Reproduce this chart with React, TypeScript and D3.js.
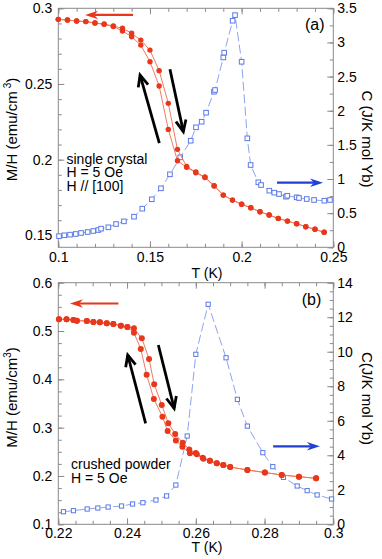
import { useRef, useEffect } from 'react';
import * as d3 from 'd3';

// ---------- panel (a): single crystal, H = 5 Oe, H // [100] ----------
// M/H, temperatures shared by both sweeps (K)
const tA = [0.1, 0.105, 0.11, 0.115, 0.12, 0.125, 0.13, 0.135, 0.14, 0.145, 0.15, 0.155, 0.16, 0.165, 0.17,
  0.175, 0.18, 0.185, 0.19, 0.195, 0.2, 0.205, 0.21, 0.215, 0.22, 0.225, 0.23, 0.235, 0.24, 0.245];
// warming branch (the right-hand loop edge)
const mhAWarm = [0.2927, 0.2923, 0.2916, 0.2912, 0.2903, 0.2896, 0.2883, 0.2868, 0.2835, 0.279, 0.2724, 0.2588,
  0.2372, 0.2068, 0.1955, 0.1918, 0.1885, 0.1828, 0.1766, 0.1733, 0.1705, 0.1682, 0.1656, 0.1634, 0.1612,
  0.1594, 0.1577, 0.1557, 0.154, 0.152];
// cooling branch (left-hand loop edge)
const mhACool = [0.2927, 0.2923, 0.2916, 0.2912, 0.2903, 0.2894, 0.288, 0.285, 0.2812, 0.2757, 0.2647, 0.2487,
  0.22, 0.1993, 0.195, 0.1914, 0.1882, 0.1826, 0.1766, 0.1733, 0.1705, 0.1682, 0.1656, 0.1634, 0.1612,
  0.1594, 0.1577, 0.1557, 0.154, 0.152];
// specific heat
const tAC = [0.1004, 0.1033, 0.1064, 0.1095, 0.1124, 0.116, 0.1191, 0.1218, 0.1233, 0.1273, 0.1315, 0.1358,
  0.1413, 0.1458, 0.151, 0.156, 0.1609, 0.1665, 0.1722, 0.1751, 0.1782, 0.1806, 0.1849, 0.1855, 0.19, 0.1905,
  0.1951, 0.1964, 0.2, 0.2031, 0.2049, 0.2091, 0.2106, 0.2151, 0.2178, 0.2204, 0.2242, 0.2249, 0.23, 0.2313,
  0.2355, 0.2395, 0.2451, 0.2482];
const cA = [0.163, 0.176, 0.185, 0.195, 0.21, 0.224, 0.239, 0.253, 0.273, 0.293, 0.341, 0.38, 0.448, 0.565,
  0.703, 0.864, 1.069, 1.318, 1.561, 1.757, 1.839, 1.971, 2.278, 2.303, 2.78, 2.85, 3.318, 3.4, 2.717, 1.596,
  1.205, 0.952, 0.912, 0.829, 0.8, 0.78, 0.741, 0.755, 0.732, 0.722, 0.707, 0.693, 0.682, 0.693];

// ---------- panel (b): crushed powder, H = 5 Oe ----------
const tBWarm = [0.2202, 0.2224, 0.2244, 0.2254, 0.2283, 0.2302, 0.2321, 0.2341, 0.236, 0.2382, 0.2401, 0.242,
  0.2443, 0.2464, 0.2479, 0.2501, 0.252, 0.254, 0.2562, 0.2581, 0.26, 0.262, 0.2641, 0.2661, 0.268, 0.27,
  0.275, 0.2801, 0.285, 0.29, 0.295];
const mhBWarm = [0.5243, 0.5243, 0.5228, 0.5214, 0.5207, 0.5187, 0.518, 0.516, 0.5145, 0.511, 0.5083, 0.5056,
  0.485, 0.4421, 0.3897, 0.3469, 0.309, 0.2869, 0.2689, 0.2549, 0.2478, 0.2375, 0.2313, 0.2262, 0.2227, 0.2186,
  0.2124, 0.2072, 0.202, 0.1985, 0.1952];
const tBCool = [0.2202, 0.2224, 0.2244, 0.2254, 0.2283, 0.2302, 0.2321, 0.2341, 0.236, 0.2382, 0.2401, 0.242,
  0.244, 0.2457, 0.2478, 0.2503, 0.2518, 0.2542, 0.2561, 0.2583, 0.2603, 0.2622, 0.2641, 0.2661, 0.268, 0.27,
  0.275, 0.2801, 0.285, 0.29, 0.295];
const mhBCool = [0.5243, 0.5243, 0.5228, 0.5214, 0.5207, 0.5187, 0.518, 0.516, 0.5145, 0.511, 0.5083, 0.4965,
  0.4628, 0.4096, 0.3593, 0.3227, 0.2931, 0.2733, 0.2603, 0.2469, 0.2448, 0.2355, 0.2313, 0.2262, 0.2227, 0.2186,
  0.2124, 0.2072, 0.202, 0.1985, 0.1952];
const tBC = [0.2215, 0.2244, 0.2284, 0.2315, 0.2345, 0.2384, 0.2416, 0.2446, 0.2484, 0.2515, 0.2542, 0.2575,
  0.26, 0.2636, 0.2688, 0.2721, 0.275, 0.2795, 0.2824, 0.2855, 0.2895, 0.2924, 0.2953, 0.2995];
const cB = [0.73, 0.79, 0.886, 0.944, 1.0, 1.06, 1.176, 1.251, 1.408, 1.64, 2.277, 5.116, 9.85, 12.75, 9.65,
  7.24, 5.69, 4.15, 3.34, 2.72, 2.22, 1.95, 1.7, 1.466];

// tick labels
const xTicksA = [0.1, 0.15, 0.2, 0.25];
const mhTicksA = [0.15, 0.2, 0.25, 0.3];
const cTicksA = [0, 0.5, 1, 1.5, 2, 2.5, 3, 3.5];
const xTicksB = [0.22, 0.24, 0.26, 0.28, 0.3];
const mhTicksB = [0.1, 0.2, 0.3, 0.4, 0.5, 0.6];
const cTicksB = [0, 2, 4, 6, 8, 10, 12, 14];

const FONT = '"Liberation Sans", Arial, Helvetica, sans-serif';
const GRAY = '#8a8a8a';
const RED = '#e8371a';
const RED_LINE = '#f27a62';
const BLUE = '#5b79ea';
const BLUE_LINE = '#8098ee';
const BLUE_ARROW = '#1f3fd6';
const LEFT = 58.3;
const RIGHT = 333.3;

const zip = (a: number[], b: number[]) => a.map((v, i) => [v, b[i]] as [number, number]);

function filledArrow(g: any, x1: number, y1: number, x2: number, y2: number, color: string) {
  const ang = Math.atan2(y2 - y1, x2 - x1);
  const len = 13, half = 4.2;
  const bx = x2 - len * Math.cos(ang), by = y2 - len * Math.sin(ang);
  const nx = x2 - len * 0.7 * Math.cos(ang), ny = y2 - len * 0.7 * Math.sin(ang);
  const px = -Math.sin(ang) * half, py = Math.cos(ang) * half;
  g.append('line').attr('x1', x1).attr('y1', y1).attr('x2', nx).attr('y2', ny)
    .attr('stroke', color).attr('stroke-width', 2.2);
  g.append('path')
    .attr('d', `M${x2},${y2}L${bx + px},${by + py}L${nx},${ny}L${bx - px},${by - py}Z`)
    .attr('fill', color);
}

function openArrow(g: any, x1: number, y1: number, x2: number, y2: number) {
  const ang = Math.atan2(y2 - y1, x2 - x1);
  const len = 12.5, spread = 0.42;
  const a1 = ang + Math.PI - spread, a2 = ang + Math.PI + spread;
  g.append('line').attr('x1', x1).attr('y1', y1).attr('x2', x2).attr('y2', y2)
    .attr('stroke', '#000').attr('stroke-width', 2.8);
  g.append('path')
    .attr('d', `M${x2 + len * Math.cos(a1)},${y2 + len * Math.sin(a1)}L${x2},${y2}L${x2 + len * Math.cos(a2)},${y2 + len * Math.sin(a2)}`)
    .attr('fill', 'none').attr('stroke', '#000').attr('stroke-width', 2.8).attr('stroke-linejoin', 'miter');
}

function drawPanel(svg: any, p: any) {
  const x = d3.scaleLinear().domain(p.xDomain).range([LEFT, RIGHT]);
  const yM = d3.scaleLinear().domain(p.mhDomain).range([p.bottom, p.top]);
  const yC = d3.scaleLinear().domain(p.cDomain).range([p.bottom, p.top]);
  const g = svg.append('g');

  g.append('rect')
    .attr('x', LEFT).attr('y', p.top).attr('width', RIGHT - LEFT).attr('height', p.bottom - p.top)
    .attr('fill', 'none').attr('stroke', GRAY);

  const style = (sel: any) => {
    sel.select('.domain').remove();
    sel.selectAll('line').attr('stroke', GRAY);
    sel.selectAll('text').attr('font-family', FONT).attr('font-size', 14).attr('fill', '#000');
  };
  const fmt = (d: any) => String(d);
  const none = () => '';
  const minorX = d3.range(p.xMinor[0], p.xMinor[1] + 1e-9, p.xMinor[2]);
  const minorM = d3.range(p.mhMinor[0], p.mhMinor[1] + 1e-9, p.mhMinor[2]);
  const minorC = d3.range(p.cMinor[0], p.cMinor[1] + 1e-9, p.cMinor[2]);

  g.append('g').attr('transform', `translate(0,${p.bottom})`)
    .call(d3.axisBottom(x).tickValues(minorX).tickSize(-3.5).tickFormat(none)).call(style);
  g.append('g').attr('transform', `translate(0,${p.bottom})`)
    .call(d3.axisBottom(x).tickValues(p.xTicks).tickSize(-6).tickPadding(p.xPad).tickFormat(fmt)).call(style);
  g.append('g').attr('transform', `translate(0,${p.top})`)
    .call(d3.axisTop(x).tickValues(minorX).tickSize(-3.5).tickFormat(none)).call(style);
  g.append('g').attr('transform', `translate(0,${p.top})`)
    .call(d3.axisTop(x).tickValues(p.xTicks).tickSize(-6).tickFormat(none)).call(style);

  g.append('g').attr('transform', `translate(${LEFT},0)`)
    .call(d3.axisLeft(yM).tickValues(minorM).tickSize(-3.5).tickFormat(none)).call(style);
  g.append('g').attr('transform', `translate(${LEFT},0)`)
    .call(d3.axisLeft(yM).tickValues(p.mhTicks).tickSize(-6).tickPadding(6).tickFormat(fmt)).call(style);
  g.append('g').attr('transform', `translate(${RIGHT},0)`)
    .call(d3.axisRight(yC).tickValues(minorC).tickSize(-3.5).tickFormat(none)).call(style);
  g.append('g').attr('transform', `translate(${RIGHT},0)`)
    .call(d3.axisRight(yC).tickValues(p.cTicks).tickSize(-6).tickPadding(4).tickFormat(fmt)).call(style);

  // specific heat: open squares, dashed guide line
  const cData = zip(p.tC, p.c);
  const lineC = d3.line<[number, number]>().x(d => x(d[0])).y(d => yC(d[1]));
  g.append('path').attr('d', lineC(cData)).attr('fill', 'none')
    .attr('stroke', BLUE_LINE).attr('stroke-width', 0.9).attr('stroke-dasharray', '9,3.5');
  g.append('g').selectAll('rect').data(cData).enter().append('rect')
    .attr('x', (d: any) => x(d[0]) - p.sq / 2).attr('y', (d: any) => yC(d[1]) - p.sq / 2)
    .attr('width', p.sq).attr('height', p.sq)
    .attr('fill', '#fff').attr('stroke', BLUE).attr('stroke-width', 1);

  // M/H: filled circles for both sweeps
  const lineM = d3.line<[number, number]>().x(d => x(d[0])).y(d => yM(d[1]));
  p.branches.forEach((b: [number[], number[]]) => {
    const data = zip(b[0], b[1]);
    g.append('path').attr('d', lineM(data)).attr('fill', 'none')
      .attr('stroke', RED_LINE).attr('stroke-width', 1);
  });
  p.branches.forEach((b: [number[], number[]]) => {
    const data = zip(b[0], b[1]);
    g.append('g').selectAll('circle').data(data).enter().append('circle')
      .attr('cx', (d: any) => x(d[0])).attr('cy', (d: any) => yM(d[1])).attr('r', p.r).attr('fill', RED);
  });

  // arrows
  const ra = p.redArrow;
  filledArrow(g, x(ra[0]), yM(ra[2]), x(ra[1]), yM(ra[2]), RED);
  const ba = p.blueArrow;
  filledArrow(g, x(ba[0]), yC(ba[2]), x(ba[1]), yC(ba[2]), BLUE_ARROW);
  p.blackArrows.forEach((a: number[]) => openArrow(g, x(a[0]), yM(a[1]), x(a[2]), yM(a[3])));

  // text
  g.append('text').attr('x', p.tag[1]).attr('y', p.tag[2]).attr('font-family', FONT).attr('font-size', 16)
    .text(p.tag[0]);
  p.notes.forEach((s: string, i: number) => {
    g.append('text').attr('x', p.noteX).attr('y', p.noteY + i * p.noteDy)
      .attr('font-family', FONT).attr('font-size', 14).text(s);
  });
  g.append('text').attr('x', 207).attr('y', p.xTitleY).attr('text-anchor', 'middle')
    .attr('font-family', FONT).attr('font-size', 14).text('T (K)');

  const lt = g.append('text').attr('transform', `translate(17,${p.leftTitleY}) rotate(-90)`)
    .attr('text-anchor', 'middle').attr('font-family', FONT).attr('font-size', 15);
  lt.append('tspan').text(p.leftTitle);
  lt.append('tspan').attr('dy', -6).attr('dx', p.supGap).attr('font-size', 10).text('3');
  lt.append('tspan').attr('dy', 6).text(')');

  g.append('text').attr('transform', `translate(362,${p.rightTitleY}) rotate(90)`)
    .attr('text-anchor', 'middle').attr('font-family', FONT).attr('font-size', 15)
    .text(p.rightTitle);
}

function App() {
  const ref = useRef<SVGSVGElement | null>(null);

  useEffect(() => {
    const el = ref.current;
    if (!el) return;
    el.innerHTML = '';
    const svg = d3.select(el);

    drawPanel(svg, {
      top: 8.3, bottom: 247.3,
      xDomain: [0.1, 0.25], mhDomain: [0.1421, 0.3], cDomain: [0, 3.5],
      xTicks: xTicksA, mhTicks: mhTicksA, cTicks: cTicksA,
      xMinor: [0.1, 0.25, 0.01], mhMinor: [0.15, 0.3, 0.01], cMinor: [0, 3.5, 0.25],
      xPad: 5,
      tC: tAC, c: cA, sq: 4.6, r: 2.7,
      branches: [[tA, mhAWarm], [tA, mhACool]],
      redArrow: [0.1408, 0.1146, 0.2956],
      blueArrow: [0.2193, 0.2444, 0.946],
      blackArrows: [[0.1551, 0.211, 0.1446, 0.2559], [0.1609, 0.2597, 0.1682, 0.2185]],
      tag: ['(a)', 305, 29.5],
      notes: ['single crystal', 'H = 5 Oe', 'H // [100]'], noteX: 66.5, noteY: 163.5, noteDy: 13.5,
      xTitleY: 278,
      leftTitle: 'M/H (emu/cm', leftTitleY: 129.5, supGap: 3,
      rightTitle: 'C (J/K mol Yb)', rightTitleY: 139,
    });

    drawPanel(svg, {
      top: 282.7, bottom: 524.3,
      xDomain: [0.22, 0.3], mhDomain: [0.1, 0.6], cDomain: [0, 14],
      xTicks: xTicksB, mhTicks: mhTicksB, cTicks: cTicksB,
      xMinor: [0.22, 0.3, 0.005], mhMinor: [0.1, 0.6, 0.025], cMinor: [0, 14, 0.5],
      xPad: 3.5,
      tC: tBC, c: cB, sq: 4.2, r: 3,
      branches: [[tBWarm, mhBWarm], [tBCool, mhBCool]],
      redArrow: [0.2375, 0.2234, 0.557],
      blueArrow: [0.2825, 0.2961, 4.52],
      blackArrows: [[0.2454, 0.309, 0.2402, 0.4504], [0.2491, 0.4711, 0.2537, 0.34]],
      tag: ['(b)', 301.7, 305],
      notes: ['crushed powder', 'H = 5 Oe'], noteX: 71, noteY: 468.5, noteDy: 14.5,
      xTitleY: 551.5,
      leftTitle: 'M/H (emu/cm', leftTitleY: 397.5, supGap: 0,
      rightTitle: 'C(J/K mol Yb)', rightTitleY: 398.5,
    });
  }, []);

  return (
    <svg ref={ref} width={382} height={559}
      style={{ position: 'absolute', left: 0, top: 0, background: '#fff' }} />
  );
}

export default App;
